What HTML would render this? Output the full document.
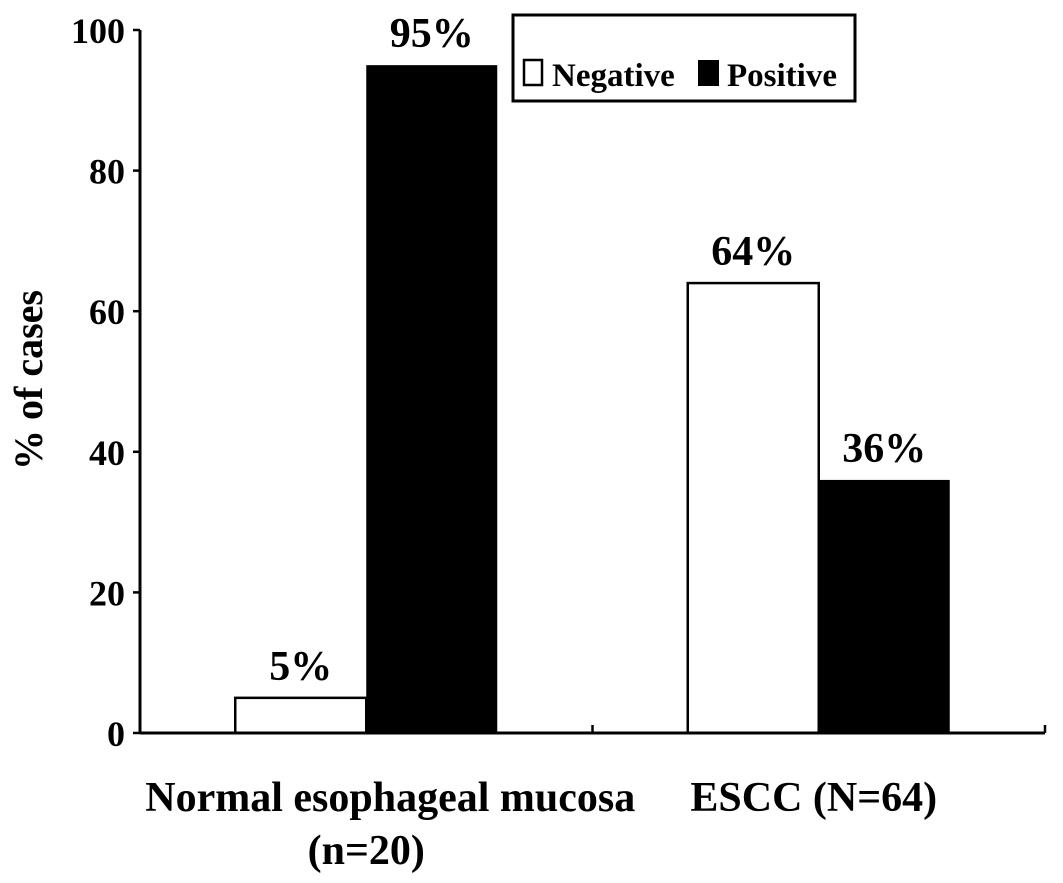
<!DOCTYPE html>
<html><head><meta charset="utf-8"><style>
body{margin:0;background:#fff;}
svg{display:block;font-family:"Liberation Serif",serif;font-weight:bold;}
</style></head><body>
<svg id="chart" width="1063" height="883" viewBox="0 0 1063 883">
<g id="bars"></g><g id="axes"></g>
<g>
<rect x="513" y="15" width="342" height="86" fill="#fff" stroke="#000" stroke-width="3"/>
<rect x="524" y="60" width="18" height="25" fill="#fff" stroke="#000" stroke-width="2.5"/>
<text x="552" y="86" font-size="33">Negative</text>
<rect x="698" y="60" width="21" height="26" fill="#000"/>
<text x="727" y="86" font-size="33">Positive</text>
</g>
<text transform="translate(42,380) rotate(-90)" text-anchor="middle" font-size="40">% of cases</text>
</svg>
<script>
const categories=["Normal esophageal mucosa|(n=20)","ESCC (N=64)"];
const negative=[5,64];
const positive=[95,36];
const yTicks=[0,20,40,60,80,100];
const X0=140,X1=1045,Y0=733,Y1=30;
const NS="http://www.w3.org/2000/svg";
function y(v){return Y0-(v/100)*(Y0-Y1);}
const bw=(X1-X0)/categories.length;
function cx(i){return X0+bw*(i+0.5);}
const bars=document.getElementById('bars'),axes=document.getElementById('axes');
function mk(t,a,p){const e=document.createElementNS(NS,t);for(const k in a)e.setAttribute(k,a[k]);p.appendChild(e);return e;}
const BW=131;
categories.forEach((c,i)=>{
  const n=mk('rect',{x:cx(i)-BW,y:y(negative[i]),width:BW,height:Y0-y(negative[i]),fill:'#fff',stroke:'#000','stroke-width':2.5},bars);
  
  
  const p=mk('rect',{x:cx(i),y:y(positive[i]),width:BW,height:Y0-y(positive[i]),fill:'#000'},bars);
  
  
  const t1=mk('text',{x:cx(i)-BW/2,y:y(negative[i])-18,'font-size':42,'text-anchor':'middle'},bars);
  t1.textContent=negative[i]+'%';
  
  
  const t2=mk('text',{x:cx(i)+BW/2,y:y(positive[i])-18,'font-size':42,'text-anchor':'middle'},bars);
  t2.textContent=positive[i]+'%';
  
  
  const lines=c.split('|');
  lines.forEach((l,j)=>{
    const t=mk('text',{x:cx(i)+(i==0?(j==0?24:0):-5),y:811+j*53,'font-size':42,'text-anchor':'middle'},axes);
    t.textContent=l;
    
    
  });
});
mk('line',{x1:X0,y1:Y0,x2:X1,y2:Y0,stroke:'#000','stroke-width':3},axes);
mk('line',{x1:X0,y1:Y0,x2:X0,y2:Y1,stroke:'#000','stroke-width':3},axes);
for(let i=1;i<=categories.length;i++)mk('line',{x1:X0+bw*i,y1:Y0,x2:X0+bw*i,y2:Y0-8,stroke:'#000','stroke-width':2.5},axes);
yTicks.forEach(v=>{
  mk('line',{x1:X0-7,y1:y(v),x2:X0,y2:y(v),stroke:'#000','stroke-width':2.5},axes);
  const t=mk('text',{x:X0-15,y:y(v)+13,'font-size':36,'text-anchor':'end'},axes);
  t.textContent=v;
  
  
});
</script>
</body></html>
